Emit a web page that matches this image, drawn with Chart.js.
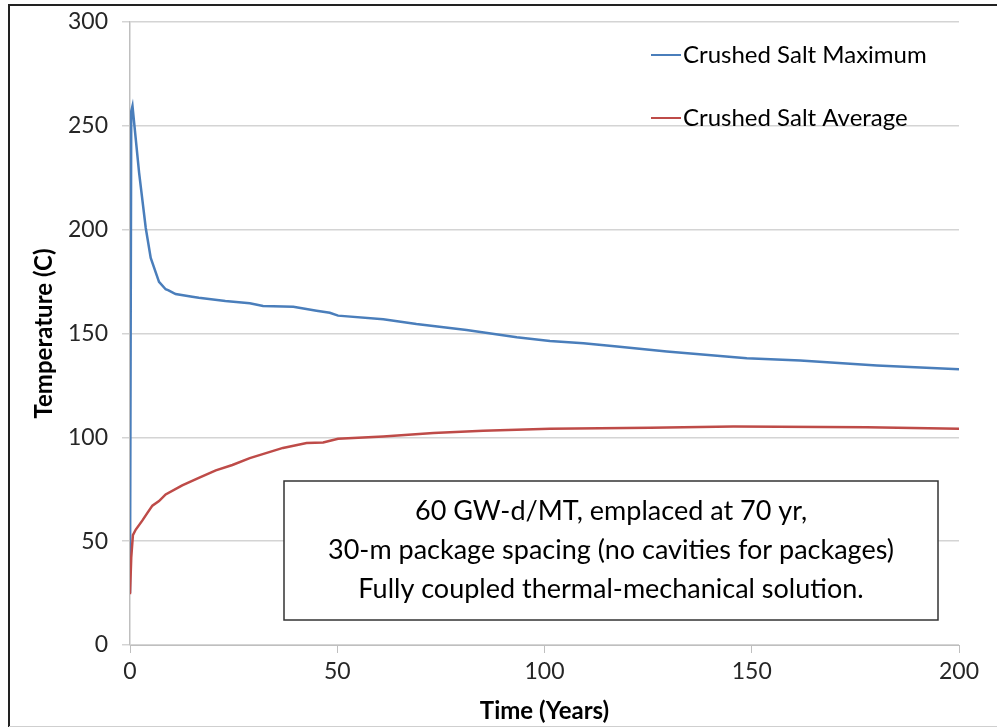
<!DOCTYPE html>
<html>
<head>
<meta charset="utf-8">
<script src="https://cdn.jsdelivr.net/npm/chart.js@4"></script>
<style>
  html, body { margin: 0; padding: 0; background: #fff; }
  #wrap { width: 997px; height: 728px; position: relative; }
</style>
</head>
<body>
<div id="wrap"><canvas id="tempChart" width="997" height="728"></canvas></div>
<script>
// Crushed salt maximum temperature (C) vs time (years)
const maxTimes = [0, 0.3, 0.6, 2.2, 3.8, 5, 7, 8.6, 9.3, 11, 15, 16.6, 23, 28.9, 32.1, 39.4, 45, 48.2, 50.2,
  61.1, 69.1, 81.2, 93.3, 101.3, 109.4, 117.5, 129.5, 148.8, 161.7, 180.2, 200];
const maxTemps = [25, 257, 259.5, 227.4, 200.8, 186.4, 174.9, 171.3, 170.8, 169, 167.7, 167.2, 165.7, 164.6, 163.3,
  162.9, 161, 160, 158.6, 156.9, 154.6, 151.7, 148.2, 146.4, 145.3, 143.7, 141.3, 138.1, 137.0, 134.6, 132.8];

// Crushed salt average temperature (C) vs time (years)
const avgTimes = [0, 0.3, 0.7, 1.4, 3, 4.2, 5.4, 7, 8.6, 12.6, 16.6, 20.7, 24.7, 28.9, 36.9, 42.6, 46.6, 50.2,
  61.1, 73.2, 85.2, 101.3, 125.5, 145.6, 177.8, 200];
const avgTemps = [24.4, 42.2, 52.9, 55.6, 60, 63.6, 67.1, 69.3, 72.5, 76.9, 80.5, 84.1, 86.7, 90.0, 94.9, 97.3,
  97.5, 99.3, 100.4, 102.1, 103.2, 104.1, 104.6, 105.2, 104.8, 104.1];

const seriesLabels = ['Crushed Salt Maximum', 'Crushed Salt Average'];
const noteLines = [
  '60 GW-d/MT, emplaced at 70 yr,',
  '30-m package spacing (no cavities for packages)',
  'Fully coupled thermal-mechanical solution.'
];

const FONT = 'Lato, "Open Sans", sans-serif';

// zip x and y arrays into points
const toPoints = (xs, ys) => xs.map((x, i) => ({ x: x, y: ys[i] }));

// outer frame, legend and the note box
const extrasPlugin = {
  id: 'extras',
  beforeDraw(chart) {
    const ctx = chart.ctx;
    ctx.save();
    ctx.fillStyle = '#fff';
    ctx.fillRect(0, 0, chart.width, chart.height);
    ctx.strokeStyle = '#222';
    ctx.lineWidth = 2;
    ctx.beginPath();
    ctx.moveTo(9, 727);
    ctx.lineTo(9, 5);
    ctx.lineTo(997, 5);
    ctx.stroke();
    ctx.strokeStyle = '#cfcfcf';
    ctx.lineWidth = 1;
    ctx.beginPath();
    ctx.moveTo(9, 726.5);
    ctx.lineTo(997, 726.5);
    ctx.stroke();
    ctx.restore();
  },
  afterDraw(chart) {
    const ctx = chart.ctx;
    ctx.save();
    // legend
    const legendY = [55, 118];
    chart.data.datasets.forEach((ds, i) => {
      ctx.strokeStyle = ds.borderColor;
      ctx.lineWidth = 2;
      ctx.beginPath();
      ctx.moveTo(651, legendY[i]);
      ctx.lineTo(681, legendY[i]);
      ctx.stroke();
      ctx.fillStyle = '#000';
      ctx.font = '24px ' + FONT;
      ctx.textBaseline = 'middle';
      ctx.textAlign = 'left';
      ctx.fillText(ds.label, 683, legendY[i]);
    });
    // note box
    ctx.fillStyle = '#fff';
    ctx.fillRect(284, 481, 654, 139);
    ctx.strokeStyle = '#333';
    ctx.lineWidth = 1.5;
    ctx.strokeRect(284, 481, 654, 139);
    ctx.fillStyle = '#000';
    ctx.font = '27px ' + FONT;
    ctx.textAlign = 'center';
    ctx.textBaseline = 'middle';
    noteLines.forEach((t, i) => ctx.fillText(t, 611, 511 + i * 39));
    ctx.restore();
  }
};

const ctx = document.getElementById('tempChart').getContext('2d');
new Chart(ctx, {
  type: 'line',
  data: {
    datasets: [
      {
        label: seriesLabels[0],
        data: toPoints(maxTimes, maxTemps),
        borderColor: '#4a7ebb',
        borderWidth: 2.5,
        pointRadius: 0,
        tension: 0,
        fill: false,
        order: 1
      },
      {
        label: seriesLabels[1],
        data: toPoints(avgTimes, avgTemps),
        borderColor: '#be4b48',
        borderWidth: 2.5,
        pointRadius: 0,
        tension: 0,
        fill: false,
        order: 0
      }
    ]
  },
  options: {
    responsive: false,
    animation: false,
    layout: { padding: { left: 10, top: 22, right: 38, bottom: 0 } },
    plugins: {
      legend: { display: false },
      tooltip: { enabled: false }
    },
    scales: {
      x: {
        type: 'linear',
        min: 0,
        max: 200,
        afterFit: (s) => { s.height = 83; },
        ticks: {
          stepSize: 50,
          padding: 5,
          color: '#262626',
          font: { family: FONT, size: 23 },
          maxRotation: 0
        },
        grid: {
          drawOnChartArea: false,
          tickLength: 8,
          color: '#bfbfbf'
        },
        border: { color: '#bfbfbf' },
        title: {
          display: true,
          text: 'Time (Years)',
          color: '#000',
          font: { family: FONT, size: 24, weight: 'bold' },
          padding: { top: 0, bottom: 2 }
        }
      },
      y: {
        min: 0,
        max: 300,
        afterFit: (s) => {
          s.width = 120;
          s.paddingTop = 10;
          s.paddingBottom = 10;
        },
        ticks: {
          stepSize: 50,
          padding: 14,
          color: '#262626',
          font: { family: FONT, size: 23 }
        },
        grid: {
          color: '#d4d4d4',
          lineWidth: 1.5,
          tickLength: 8
        },
        border: { color: '#bfbfbf', width: 1.5 },
        title: {
          display: true,
          text: 'Temperature (C)',
          color: '#000',
          font: { family: FONT, size: 24, weight: 'bold' },
          padding: { top: 20, bottom: 0 }
        }
      }
    }
  },
  plugins: [extrasPlugin]
});
</script>
</body>
</html>
